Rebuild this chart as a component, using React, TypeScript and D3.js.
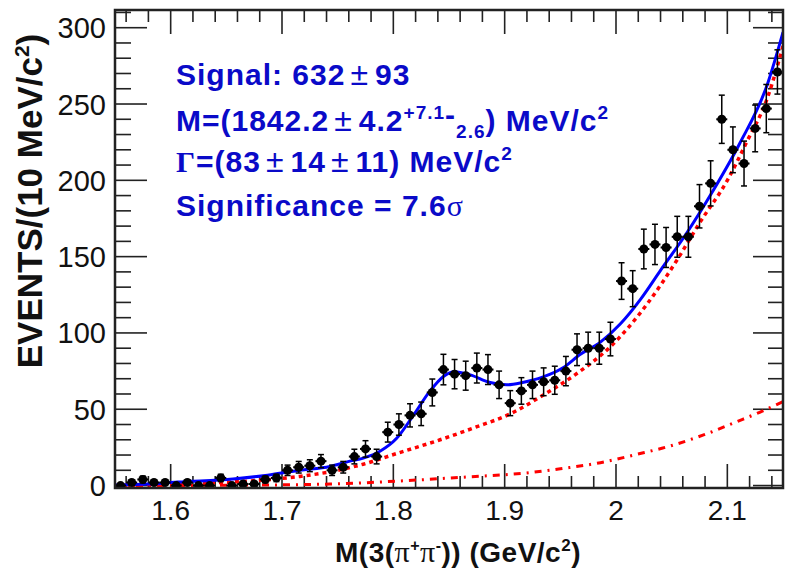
import React from 'react';
import * as d3 from 'd3';

const W = 786;
const H = 575;

// 10 MeV bins starting at 1.55 GeV
const binLow = 1.55;
const binWidth = 0.01;
const counts = [0, 2, 4, 2, 2, 0, 2, 0, 0, 5, 0, 1, 1, 4, 5, 10, 12, 13, 16, 10, 12, 19, 24, 19, 35, 40, 46, 47, 61, 76, 73, 72, 77, 76, 66, 54, 62, 66, 68, 69, 75, 89, 90, 90, 96, 134, 129, 155, 158, 156, 163, 163, 183, 198, 240, 220, 211, 234, 247, 271];
const errors = [0, 1.6, 2.2, 1.6, 1.6, 0, 1.6, 0, 0, 2.4, 0, 1.1, 1.1, 2.2, 2.4, 3.4, 3.8, 3.9, 4.3, 3.4, 3.8, 4.8, 5.4, 4.8, 6.5, 7, 7.6, 7.7, 8.8, 10, 9.6, 9.5, 9.8, 9.8, 9, 8.2, 8.7, 9, 9.1, 9.2, 9.6, 10.4, 10.5, 10.5, 11, 12, 11.8, 13, 13.2, 13.1, 13.4, 13.4, 14.2, 14.8, 15.8, 15, 14.7, 15.3, 15.8, 14.5];

// total fit (blue solid)
const totalMass = [1.55, 1.581, 1.606, 1.656, 1.687, 1.716, 1.743, 1.761, 1.773, 1.788, 1.803, 1.818, 1.833, 1.845, 1.855, 1.869, 1.887, 1.902, 1.916, 1.934, 1.952, 1.968, 1.986, 2.004, 2.022, 2.04, 2.064, 2.087, 2.111, 2.136, 2.15];
const totalVals = [0.3, 1, 2.3, 4.3, 6.8, 10, 12.5, 16, 18, 22.5, 31, 46, 62, 71.5, 74.6, 72.5, 67.5, 66, 67.5, 71, 77, 86, 94, 106, 122, 141, 166, 193, 224, 263, 297];

// background (red dotted)
const bkgMass = [1.55, 1.581, 1.626, 1.671, 1.716, 1.743, 1.773, 1.803, 1.842, 1.873, 1.905, 1.934, 1.966, 1.995, 2.028, 2.055, 2.075, 2.1, 2.118, 2.136, 2.15];
const bkgVals = [0, 0.5, 1.5, 3, 6, 9, 14, 21, 30, 38, 47, 59, 74, 91, 119, 148, 172, 200, 226, 254, 288];

// second background component (red dash-dot)
const bkg2Mass = [1.55, 1.671, 1.743, 1.806, 1.863, 1.923, 1.95, 1.986, 2.019, 2.049, 2.078, 2.109, 2.129, 2.15];
const bkg2Vals = [0, 0.3, 1, 3, 5.5, 8.5, 11, 15, 20.5, 26, 33, 42, 48, 55];

const xTickValues = [1.6, 1.7, 1.8, 1.9, 2.0, 2.1];
const xTickLabels = ['1.6', '1.7', '1.8', '1.9', '2', '2.1'];
const yTickValues = [0, 50, 100, 150, 200, 250, 300];
const yTickLabels = ['0', '50', '100', '150', '200', '250', '300'];

const BLUE_TEXT = '#0a0ac8';
const SANS = '"Liberation Sans", Arial, Helvetica, sans-serif';
const SERIF = '"Liberation Serif", "Times New Roman", serif';

function PM() {
  return <tspan fontWeight="normal" fontSize={32} dx={5}>±</tspan>;
}

export default function App() {
  const left = 115, right = 783, top = 10, bottom = 488;
  const x = d3.scaleLinear().domain([1.55, 2.15]).range([left, right]);
  const y = d3.scaleLinear().domain([-1.6, 311.6]).range([bottom, top]);

  const xMinor = d3.range(1.56, 2.1501, 0.02).filter(v => xTickValues.every(t => Math.abs(t - v) > 1e-6));
  const yMinor = d3.range(10, 311, 10).filter(v => v % 50 !== 0);

  const mkLine = (ms: number[], vs: number[]) =>
    d3.line<number>().x((_, i) => x(ms[i])).y((_, i) => y(vs[i])).curve(d3.curveMonotoneX)(ms.map((_, i) => i)) || '';

  const points = counts.map((c, i) => ({ m: binLow + binWidth * (i + 0.5), c, e: errors[i] }));

  return (
    <svg width={W} height={H} style={{ position: 'absolute', left: 0, top: 0, background: '#fff' }} fontFamily={SANS}>
      <rect x={0} y={0} width={W} height={H} fill="#fff" />
      <defs>
        <clipPath id="plotclip">
          <rect x={left} y={top} width={right - left} height={bottom - top} />
        </clipPath>
      </defs>

      {/* ticks */}
      <g stroke="#222" strokeWidth={1.6}>
        {xTickValues.map(v => (
          <g key={'xm' + v}>
            <line x1={x(v)} x2={x(v)} y1={bottom} y2={bottom - 24} />
            <line x1={x(v)} x2={x(v)} y1={top} y2={top + 24} />
          </g>
        ))}
        {xMinor.map(v => (
          <g key={'xn' + v}>
            <line x1={x(v)} x2={x(v)} y1={bottom} y2={bottom - 12} />
            <line x1={x(v)} x2={x(v)} y1={top} y2={top + 12} />
          </g>
        ))}
        {yTickValues.map(v => (
          <g key={'ym' + v}>
            <line x1={left} x2={left + 32} y1={y(v)} y2={y(v)} />
            <line x1={right} x2={right - 30} y1={y(v)} y2={y(v)} />
          </g>
        ))}
        {yMinor.map(v => (
          <g key={'yn' + v}>
            <line x1={left} x2={left + 16} y1={y(v)} y2={y(v)} />
            <line x1={right} x2={right - 15} y1={y(v)} y2={y(v)} />
          </g>
        ))}
      </g>

      {/* curves */}
      <g clipPath="url(#plotclip)" fill="none">
        <path d={mkLine(bkg2Mass, bkg2Vals)} stroke="#ff0000" strokeWidth={3} strokeDasharray="7,6,2,6" />
        <path d={mkLine(bkgMass, bkgVals)} stroke="#ff0000" strokeWidth={3.5} strokeDasharray="4,4" />
        <path d={mkLine(totalMass, totalVals)} stroke="#0000ff" strokeWidth={3} />
      </g>

      {/* data points */}
      <g clipPath="url(#plotclip)">
        {points.map((p, i) => {
          const cx = x(p.m), cy = y(p.c);
          const yTop = y(p.c + p.e), yBot = y(Math.max(p.c - p.e, 0));
          return (
            <g key={'p' + i} stroke="#000">
              {p.e > 0 && (
                <g strokeWidth={1.5}>
                  <line x1={cx} x2={cx} y1={yTop} y2={yBot} />
                  <line x1={cx - 3} x2={cx + 3} y1={yTop} y2={yTop} />
                  <line x1={cx - 3} x2={cx + 3} y1={yBot} y2={yBot} />
                </g>
              )}
              <line x1={cx - 5.5} x2={cx + 5.5} y1={cy} y2={cy} strokeWidth={2} />
              <circle cx={cx} cy={cy} r={4.5} fill="#000" stroke="none" />
            </g>
          );
        })}
      </g>

      {/* frame */}
      <rect x={left} y={top} width={right - left} height={bottom - top} fill="none" stroke="#222" strokeWidth={2.5} />

      {/* tick labels */}
      <g fontSize={29} fill="#111">
        {yTickValues.map((v, i) => (
          <text key={'yl' + v} x={106} y={y(v) + 10.5} textAnchor="end">{yTickLabels[i]}</text>
        ))}
      </g>
      <g fontSize={28} fill="#111">
        {xTickValues.map((v, i) => (
          <text key={'xl' + v} x={x(v)} y={520} textAnchor="middle">{xTickLabels[i]}</text>
        ))}
      </g>

      {/* axis titles */}
      <text x={458} y={562} textAnchor="middle" fontSize={28} fontWeight="bold" fill="#111" letterSpacing={0.5}>
        M(3(<tspan fontFamily={SERIF} fontWeight="normal" fontSize={30}>π</tspan>
        <tspan fontSize={16} dy={-11}>+</tspan>
        <tspan fontFamily={SERIF} fontWeight="normal" fontSize={30} dy={11}>π</tspan>
        <tspan fontSize={16} dy={-11}>-</tspan>
        <tspan dy={11}>)) (GeV/c</tspan>
        <tspan fontSize={17} dy={-11}>2</tspan>
        <tspan dy={11}>)</tspan>
      </text>
      <text transform="translate(42,201) rotate(-90)" textAnchor="middle" fontSize={35} fontWeight="bold" fill="#111">
        EVENTS/(10 MeV/c<tspan fontSize={21} dy={-13}>2</tspan><tspan dy={13}>)</tspan>
      </text>

      {/* fit results */}
      <g fill={BLUE_TEXT} fontWeight="bold" fontSize={30} letterSpacing={1}>
        <text x={176} y={85}>
          Signal: 632<PM /><tspan dx={6}>93</tspan>
        </text>
        <text x={176} y={131}>
          M=(1842.2<PM /><tspan dx={6}>4.2</tspan>
          <tspan fontSize={19} dy={-12}>+7.1</tspan>
          <tspan dy={6}>-</tspan>
          <tspan fontSize={19} dy={13}>2.6</tspan>
          <tspan dy={-7}>) MeV/c</tspan>
          <tspan fontSize={19} dy={-12}>2</tspan>
        </text>
        <text x={176} y={172}>
          <tspan fontFamily={SERIF}>Γ</tspan>=(83<PM /><tspan dx={6}>14</tspan><PM /><tspan dx={6}>11) MeV/c</tspan>
          <tspan fontSize={19} dy={-12}>2</tspan>
        </text>
        <text x={176} y={216}>
          Significance = 7.6<tspan fontFamily={SERIF} fontWeight="normal">σ</tspan>
        </text>
      </g>
    </svg>
  );
}
